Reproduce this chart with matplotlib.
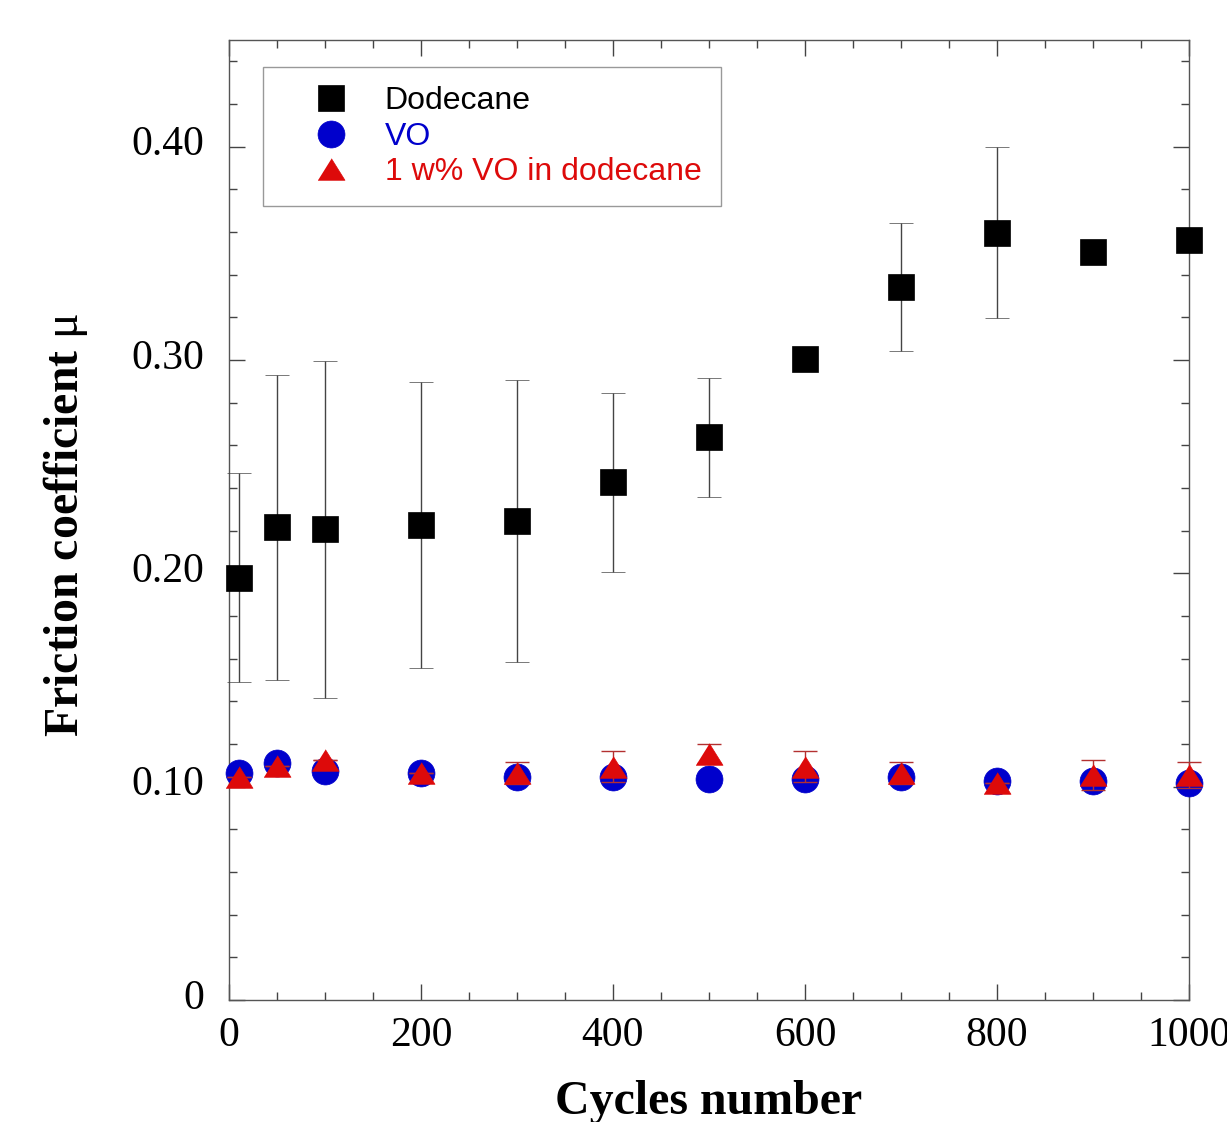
import matplotlib
matplotlib.use('Agg')
import matplotlib.pyplot as plt
from matplotlib.ticker import MultipleLocator
from matplotlib.transforms import ScaledTranslation

# friction coefficient vs number of cycles
cycles = [10, 50, 100, 200, 300, 400, 500, 600, 700, 800, 900, 1000]

mu_dodecane = [0.198, 0.2215, 0.2206, 0.2225, 0.2244, 0.2426, 0.2637, 0.3007, 0.3344, 0.3597, 0.3508, 0.3564]
err_dodecane = [0.049, 0.0717, 0.079, 0.067, 0.066, 0.042, 0.028, 0.0, 0.030, 0.040, 0.0, 0.0]

mu_vo = [0.1065, 0.111, 0.1074, 0.1065, 0.1043, 0.1043, 0.1035, 0.1035, 0.1044, 0.1027, 0.1026, 0.1015]

mu_mix = [0.1047, 0.1095, 0.1125, 0.1066, 0.1064, 0.1094, 0.1154, 0.1094, 0.1064, 0.1016, 0.1056, 0.1056]
err_mix = [0.0, 0.0, 0.0, 0.0, 0.0052, 0.0071, 0.0045, 0.0071, 0.005, 0.0, 0.007, 0.006]

labels = ['Dodecane', 'VO', '1 w% VO in dodecane']
colors = ['black', '#0000cc', '#dd0a0a']

plt.rcParams['font.family'] = 'Liberation Serif'
plt.rcParams['mathtext.fontset'] = 'custom'
plt.rcParams['mathtext.rm'] = 'Liberation Serif'

fig = plt.figure(figsize=(12.27, 11.22), dpi=100)
ax = fig.add_axes([229/1227, 1-1000/1122, 960/1227, 960/1122])

ms = 19.4
tri = [(-1, -0.8), (1, -0.8), (0, 0.8)]

e1 = ax.errorbar(cycles, mu_dodecane, yerr=err_dodecane, fmt='s', ms=ms, color=colors[0],
                 mec=colors[0], mew=0.5, ecolor='#444444', elinewidth=1.0, capsize=8.5,
                 capthick=1.0, zorder=3, clip_on=False)
e2, = ax.plot(cycles, mu_vo, 'o', ms=ms, color=colors[1], mec=colors[1], mew=0.5,
              zorder=4, clip_on=False)
e3 = ax.errorbar(cycles, mu_mix, yerr=err_mix, fmt='none', ecolor='#b33030',
                 elinewidth=1.0, capsize=8.5, capthick=1.0, zorder=4.5, clip_on=False)
l3, = ax.plot(cycles, mu_mix, ls='none', marker=tri, ms=ms, color=colors[2], mec=colors[2],
              mew=0.5, zorder=5, clip_on=False)

ax.set_xlim(0, 1000)
ax.set_ylim(0, 0.45)
ax.xaxis.set_major_locator(MultipleLocator(200))
ax.xaxis.set_minor_locator(MultipleLocator(50))
ax.yaxis.set_major_locator(MultipleLocator(0.1))
ax.yaxis.set_minor_locator(MultipleLocator(0.02))
ax.set_yticks([0, 0.1, 0.2, 0.3, 0.4])
ax.set_yticklabels(['0', '0.10', '0.20', '0.30', '0.40'])

for s in ax.spines.values():
    s.set_color('#555555')
    s.set_linewidth(1.0)
ax.tick_params(which='both', direction='in', top=True, right=True, color='#444444', width=1.0)
ax.tick_params(which='major', length=11.5, labelsize=30)
ax.tick_params(which='minor', length=6)
ax.tick_params(axis='y', which='major', pad=18)
ax.tick_params(axis='x', which='major', pad=12)

# y tick labels sit a little above their ticks
shift = ScaledTranslation(0, 6/100, fig.dpi_scale_trans)
for lab in ax.get_yticklabels():
    lab.set_transform(lab.get_transform() + shift)

ax.set_xlabel('Cycles number', fontsize=34.5, fontweight='bold', labelpad=18)
ax.set_ylabel(r'Friction coefficient $\mathrm{\mu}$', fontsize=34.5, fontweight='bold')
ax.yaxis.set_label_coords(-0.1445, 0.495)

leg = ax.legend([e1[0], e2, l3], labels, loc='upper left', bbox_to_anchor=(0.0359, 0.9716),
                borderaxespad=0, numpoints=1, frameon=True, fancybox=False,
                edgecolor='#999999', framealpha=1, borderpad=0.6, handlelength=3.0,
                handletextpad=0.2, labelspacing=0.17, labelcolor=colors,
                prop={'family': 'Liberation Sans', 'size': 23})
leg.get_frame().set_linewidth(1.0)

fig.savefig('out.png', dpi=100)
